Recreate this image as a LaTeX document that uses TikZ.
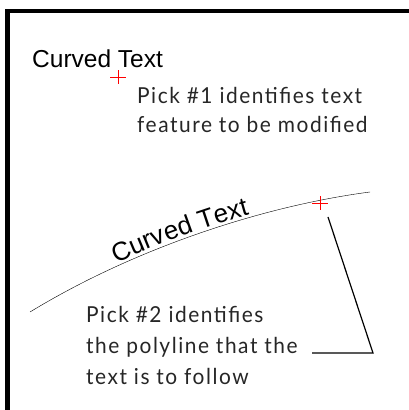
\documentclass[tikz,border=0pt]{standalone}
\usepackage{fontspec}
\usepackage{tikz}
\usepackage{xcolor}
\usetikzlibrary{decorations.text}
\newfontfamily\arialfont{Liberation Sans}
\newfontfamily\notefont[FakeStretch=0.95, LetterSpace=7]{Lato}
\tikzset{
    frame-line/.style = {line width=4.5pt, line cap=rect},
    title-text/.style = {font=\arialfont\fontsize{24.5}{28}\selectfont, inner sep=0pt, anchor=base west},
    note-text/.style = {text=black!85, align=left, inner sep=0pt, anchor=north west},
    pick-mark/.style = {red, line width=0.9pt},
    leader/.style = {line width=1.2pt},
}
\begin{document}
\begin{tikzpicture}[x=1pt, y=1pt]
\useasboundingbox (0,0) rectangle (408,410);
% frame
\draw[frame-line] (7.5,0) -- (7.5,399) -- (410,399);
% feature to be changed
\node[title-text] (title) at (32,342) {Curved Text};
\draw[pick-mark] (110,333) -- (126,333) (118,326) -- (118,340);
\node[note-text, font=\notefont\fontsize{22}{28.5}\selectfont] (note1) at (137,322.5)
    {Pick \#1 identifies text\\feature to be modified};
% polyline with text on it
\draw[thin] (30,98) .. controls (140,165) and (270,205) .. (370,218);
\path[decorate, decoration={text along path, raise=3pt,
    text={|\arialfont\fontsize{26}{28}\selectfont|Curved Text},
    text align={left indent=99pt}}]
    (30,98) .. controls (140,165) and (270,205) .. (370,218);
\coordinate (pick2) at (320,207);
\draw[pick-mark] (312,207) -- (328,207) (320,200) -- (320,214);
\node[note-text, font=\notefont\fontsize{22}{31}\selectfont] (note2) at (86,103.5)
    {Pick \#2 identifies\\the polyline that the\\text is to follow};
\coordinate (bend) at (373,57);
\coordinate (tail) at (312,57);
\draw[leader] (328,193) -- (bend) -- (tail);
\end{tikzpicture}
\end{document}
